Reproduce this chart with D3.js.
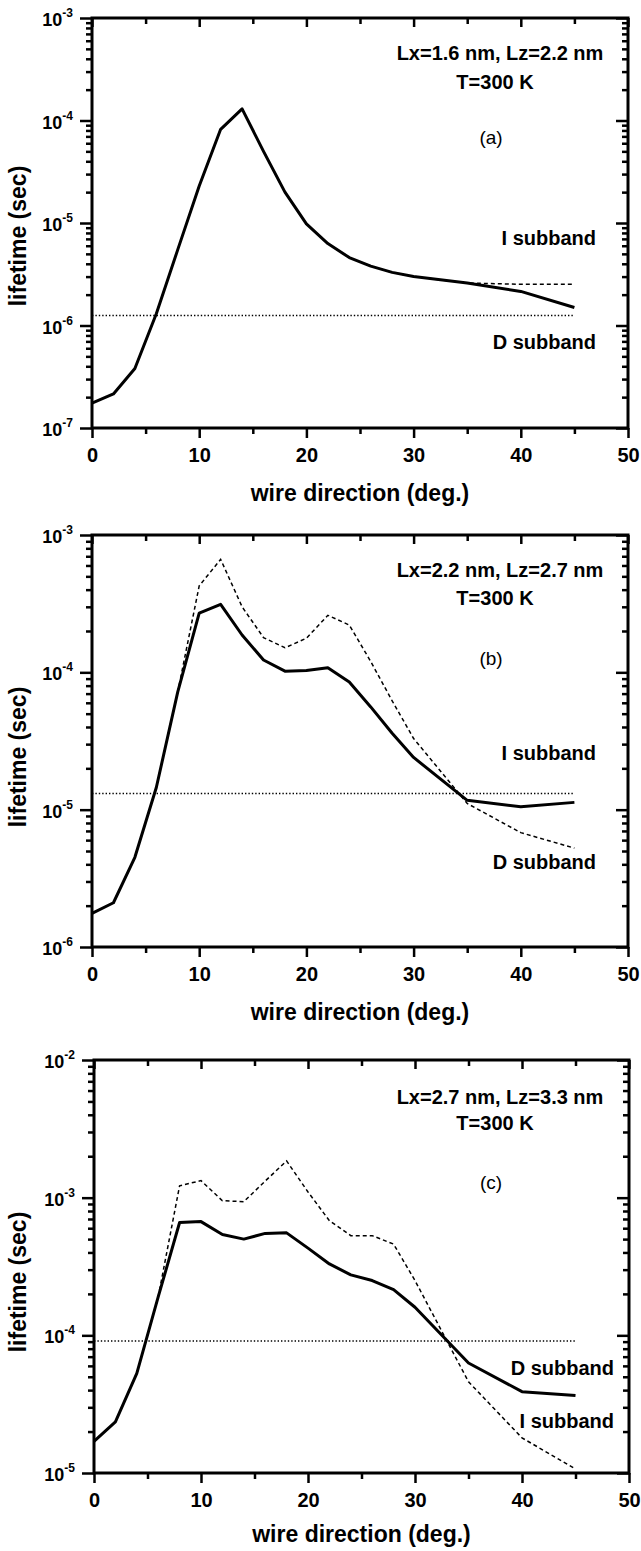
<!DOCTYPE html>
<html>
<head>
<meta charset="utf-8">
<script src="https://cdn.jsdelivr.net/npm/d3@7"></script>
<style>
  body { margin: 0; background: #fff; }
  svg text { font-family: "Liberation Sans", Arial, sans-serif; fill: #000; }
</style>
</head>
<body>
<div id="chart"></div>
<script>
// wire direction (deg.) sampled for every curve
var angle = [0, 2, 4, 6, 8, 10, 12, 14, 16, 18, 20, 22, 24, 26, 28, 30, 35, 40, 45];

// (a) Lx=1.6 nm, Lz=2.2 nm
var aSolid  = [1.75e-7, 2.15e-7, 3.8e-7, 1.3e-6, 5.5e-6, 2.3e-5, 8.2e-5, 1.3e-4, 5.0e-5, 2.0e-5,
               9.8e-6, 6.3e-6, 4.6e-6, 3.8e-6, 3.3e-6, 3.0e-6, 2.6e-6, 2.15e-6, 1.5e-6];
var aDashed = [1.75e-7, 2.15e-7, 3.8e-7, 1.3e-6, 5.5e-6, 2.3e-5, 8.2e-5, 1.3e-4, 5.0e-5, 2.0e-5,
               9.8e-6, 6.3e-6, 4.6e-6, 3.8e-6, 3.3e-6, 3.0e-6, 2.6e-6, 2.52e-6, 2.52e-6];
var aDotted = [1.25e-6, 1.25e-6];

// (b) Lx=2.2 nm, Lz=2.7 nm
var bSolid  = [1.76e-6, 2.1e-6, 4.5e-6, 1.45e-5, 7.2e-5, 2.7e-4, 3.13e-4, 1.87e-4, 1.23e-4, 1.02e-4,
               1.03e-4, 1.08e-4, 8.5e-5, 5.6e-5, 3.6e-5, 2.4e-5, 1.17e-5, 1.05e-5, 1.13e-5];
var bDashed = [1.76e-6, 2.1e-6, 4.5e-6, 1.45e-5, 7.2e-5, 4.26e-4, 6.65e-4, 3.0e-4, 1.79e-4, 1.51e-4,
               1.77e-4, 2.6e-4, 2.21e-4, 1.2e-4, 6.2e-5, 3.3e-5, 1.11e-5, 6.8e-6, 5.25e-6];
var bDotted = [1.31e-5, 1.31e-5];

// (c) Lx=2.7 nm, Lz=3.3 nm
var cSolid  = [1.7e-5, 2.35e-5, 5.3e-5, 1.9e-4, 6.6e-4, 6.7e-4, 5.4e-4, 5.0e-4, 5.5e-4, 5.55e-4,
               4.3e-4, 3.3e-4, 2.75e-4, 2.5e-4, 2.15e-4, 1.6e-4, 6.3e-5, 3.9e-5, 3.65e-5];
var cDashed = [1.7e-5, 2.35e-5, 5.3e-5, 1.9e-4, 1.22e-3, 1.33e-3, 9.5e-4, 9.35e-4, 1.32e-3, 1.85e-3,
               1.1e-3, 6.8e-4, 5.3e-4, 5.3e-4, 4.6e-4, 2.5e-4, 4.6e-5, 1.8e-5, 1.07e-5];
var cDotted = [9.1e-5, 9.1e-5];

var dottedX = [0, 45];
var xMajor = [0, 10, 20, 30, 40, 50];
var xMinor = [5, 15, 25, 35, 45];

var xLabel = "wire direction (deg.)";
var yLabel = "lifetime (sec)";

var panels = [
  { tag: "(a)", size: "Lx=1.6 nm, Lz=2.2 nm", temp: "T=300 K",
    yDomain: [1e-7, 1e-3], solid: aSolid, dashed: aDashed, dotted: aDotted,
    upper: "I subband", lower: "D subband",
    box: { l: 92, r: 628, t: 18, b: 428 },
    txt: { info: 60, temp: 89, tag: 144, upperY: 245, lowerY: 349, labX: 596, ytitle: 236, xtitle: 501 } },
  { tag: "(b)", size: "Lx=2.2 nm, Lz=2.7 nm", temp: "T=300 K",
    yDomain: [1e-6, 1e-3], solid: bSolid, dashed: bDashed, dotted: bDotted,
    upper: "I subband", lower: "D subband",
    box: { l: 92, r: 628, t: 535, b: 947 },
    txt: { info: 577, temp: 605, tag: 665, upperY: 760, lowerY: 869, labX: 596, ytitle: 757, xtitle: 1020 } },
  { tag: "(c)", size: "Lx=2.7 nm, Lz=3.3 nm", temp: "T=300 K",
    yDomain: [1e-5, 1e-2], solid: cSolid, dashed: cDashed, dotted: cDotted,
    upper: "D subband", lower: "I subband",
    box: { l: 94, r: 629, t: 1060, b: 1473 },
    txt: { info: 1104, temp: 1130, tag: 1189, upperY: 1375, lowerY: 1428, labX: 614, ytitle: 1282, xtitle: 1542 } }
];

var svg = d3.select("#chart").append("svg")
  .attr("width", 641).attr("height", 1551)
  .style("background", "#fff");

function zip(xs, ys) {
  return xs.map(function (v, i) { return [v, ys[i]]; });
}

function drawPanel(p) {
  var x = d3.scaleLinear().domain([0, 50]).range([p.box.l, p.box.r]);
  var y = d3.scaleLog().domain(p.yDomain).range([p.box.b, p.box.t]);

  var allY = y.ticks();
  var yMajor = allY.filter(function (v) {
    var e = Math.log10(v); return Math.abs(e - Math.round(e)) < 1e-9;
  });
  var yMinor = allY.filter(function (v) { return yMajor.indexOf(v) < 0; });

  var g = svg.append("g");

  function axis(gen, tx, ty) {
    var a = g.append("g").attr("transform", "translate(" + tx + "," + ty + ")").call(gen);
    a.select(".domain").remove();
    a.selectAll(".tick line").attr("stroke", "#000").attr("stroke-width", 2.5);
    return a;
  }

  // bottom: ticks outward
  var bx = axis(d3.axisBottom(x).tickValues(xMajor).tickSize(10).tickPadding(10)
    .tickFormat(d3.format("d")), 0, p.box.b);
  bx.selectAll("text").attr("font-size", 20).attr("font-weight", "bold")
    .attr("font-family", "'Liberation Sans', Arial, sans-serif");
  bx.attr("font-size", null).attr("font-family", null);
  axis(d3.axisBottom(x).tickValues(xMinor).tickSize(6).tickFormat(""), 0, p.box.b);

  // top: ticks inward
  axis(d3.axisTop(x).tickValues(xMajor).tickSize(-9).tickFormat(""), 0, p.box.t);
  axis(d3.axisTop(x).tickValues(xMinor).tickSize(-6).tickFormat(""), 0, p.box.t);

  // left: ticks outward
  axis(d3.axisLeft(y).tickValues(yMajor).tickSize(12).tickFormat(""), p.box.l, 0);
  axis(d3.axisLeft(y).tickValues(yMinor).tickSize(6).tickFormat(""), p.box.l, 0);

  // right: ticks inward
  axis(d3.axisRight(y).tickValues(yMajor).tickSize(-12).tickFormat(""), p.box.r, 0);
  axis(d3.axisRight(y).tickValues(yMinor).tickSize(-6).tickFormat(""), p.box.r, 0);

  // y tick labels 10^n
  var yl = g.append("g").selectAll("text").data(yMajor).enter().append("text")
    .attr("x", p.box.l - 19)
    .attr("y", function (d) { return y(d) + 8; })
    .attr("text-anchor", "end")
    .attr("font-weight", "bold");
  yl.append("tspan").attr("font-size", 18).text("10");
  yl.append("tspan").attr("font-size", 12).attr("dy", -9)
    .text(function (d) { return String(Math.round(Math.log10(d))); });

  // frame
  g.append("rect")
    .attr("x", p.box.l).attr("y", p.box.t)
    .attr("width", p.box.r - p.box.l).attr("height", p.box.b - p.box.t)
    .attr("fill", "none").attr("stroke", "#000").attr("stroke-width", 3);

  var line = d3.line().x(function (d) { return x(d[0]); }).y(function (d) { return y(d[1]); });

  g.append("path").datum(zip(dottedX, p.dotted)).attr("d", line)
    .attr("fill", "none").attr("stroke", "#000").attr("stroke-width", 1.4)
    .attr("stroke-dasharray", "1.4,2");
  g.append("path").datum(zip(angle, p.dashed)).attr("d", line)
    .attr("fill", "none").attr("stroke", "#000").attr("stroke-width", 1.5)
    .attr("stroke-dasharray", "4,3");
  g.append("path").datum(zip(angle, p.solid)).attr("d", line)
    .attr("fill", "none").attr("stroke", "#000").attr("stroke-width", 3)
    .attr("stroke-linejoin", "round");

  // annotations
  g.append("text").attr("x", 500).attr("y", p.txt.info).attr("text-anchor", "middle")
    .attr("font-size", 20).attr("font-weight", "bold").text(p.size);
  g.append("text").attr("x", 495).attr("y", p.txt.temp).attr("text-anchor", "middle")
    .attr("font-size", 20).attr("font-weight", "bold").text(p.temp);
  g.append("text").attr("x", 491).attr("y", p.txt.tag).attr("text-anchor", "middle")
    .attr("font-size", 19).text(p.tag);
  g.append("text").attr("x", p.txt.labX).attr("y", p.txt.upperY).attr("text-anchor", "end")
    .attr("font-size", 20).attr("font-weight", "bold").text(p.upper);
  g.append("text").attr("x", p.txt.labX).attr("y", p.txt.lowerY).attr("text-anchor", "end")
    .attr("font-size", 20).attr("font-weight", "bold").text(p.lower);

  // axis titles
  g.append("text").attr("x", (p.box.l + p.box.r) / 2).attr("y", p.txt.xtitle)
    .attr("text-anchor", "middle").attr("font-size", 23).attr("font-weight", "bold")
    .text(xLabel);
  g.append("text").attr("transform", "translate(26," + p.txt.ytitle + ") rotate(-90)")
    .attr("text-anchor", "middle").attr("font-size", 23).attr("font-weight", "bold")
    .text(yLabel);
}

panels.forEach(drawPanel);
</script>
</body>
</html>
